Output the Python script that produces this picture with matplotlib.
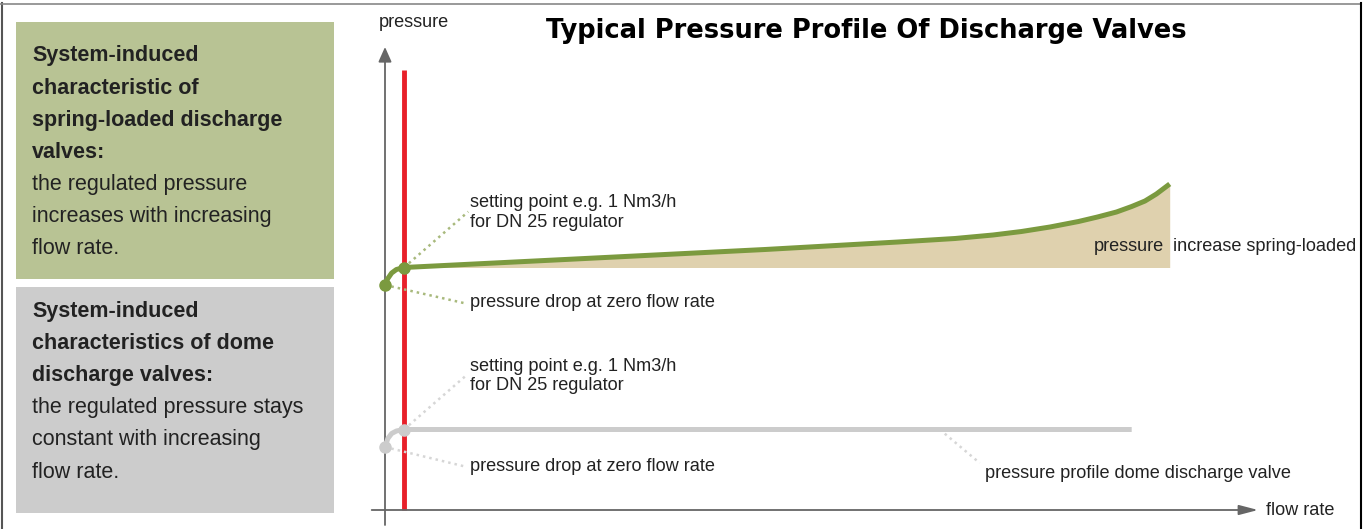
import matplotlib
matplotlib.use("Agg")
import matplotlib.pyplot as plt
from matplotlib.patches import Rectangle
from matplotlib.lines import Line2D

# spring-loaded valve: flow rate vs. pressure (arbitrary units, setting point at flow 1)
spring_flow = [0, 0.15, 0.35, 0.6, 1, 10, 20, 27, 30, 32, 33.5, 35, 36.5, 37.5, 38.5, 39.3,
               40, 40.6, 41.3]
spring_pressure = [22.5, 23.15, 23.7, 24.05, 24.25, 25.1, 26.05, 26.8, 27.15, 27.5, 27.85, 28.3,
                   28.85, 29.3, 29.8, 30.35, 30.9, 31.6, 32.6]

# dome valve: constant after setting point
dome_flow = [0, 0.15, 0.35, 0.6, 1, 39.3]
dome_pressure = [6.3, 7.15, 7.65, 7.9, 8.05, 8.05]

setting_flow = 1
setting_top = 44

green_title = ["System-induced", "characteristic of", "spring-loaded discharge", "valves:"]
green_body = ["the regulated pressure", "increases with increasing", "flow rate."]
gray_title = ["System-induced", "characteristics of dome", "discharge valves:"]
gray_body = ["the regulated pressure stays", "constant with increasing", "flow rate."]

W, H = 1367, 529
GREEN = "#7b9a3f"
GREEN_DOT = "#a8b97c"
GRAY = "#cccccc"
AXIS = "#666666"
TXT = "#222222"
FS = 13.1

plt.rcParams['font.family'] = ["Liberation Sans", 'DejaVu Sans']

fig = plt.figure(figsize=(W / 100, H / 100), dpi=100)
ax = fig.add_axes([0, 0, 1, 1])
ax.set_xlim(-385 / 19, (W - 385) / 19)
ax.set_ylim(-1.9, 51.0)
ax.axis("off")


def fx(px):
    return px / W


def fy(py):
    return 1 - py / H


# outer frame
fig.add_artist(Line2D([fx(1.5), fx(1.5)], [fy(3), 0], color="#555555", lw=1.5))
fig.add_artist(Line2D([0, fx(1361)], [fy(3.5), fy(3.5)], color="#888888", lw=1.2))
fig.add_artist(Line2D([fx(1361), fx(1361)], [fy(3), 0], color="black", lw=1.5))

# left info boxes
fig.add_artist(Rectangle((fx(16), fy(279)), fx(318), 257 / H, transform=fig.transFigure,
                         facecolor="#b8c394", edgecolor="none"))
fig.add_artist(Rectangle((fx(16), fy(513)), fx(318), 226 / H, transform=fig.transFigure,
                         facecolor=GRAY, edgecolor="none"))

for i, line in enumerate(green_title + green_body):
    fig.text(fx(32), fy(61.5 + 32.1 * i), line, fontsize=15.5, color=TXT, va="baseline",
             fontweight="bold" if i < len(green_title) else "normal")
for i, line in enumerate(gray_title + gray_body):
    fig.text(fx(32), fy(316.5 + 32.2 * i), line, fontsize=15.5, color=TXT, va="baseline",
             fontweight="bold" if i < len(gray_title) else "normal")

fig.text(fx(866), fy(38), "Typical Pressure Profile Of Discharge Valves", ha="center",
         va="baseline", fontsize=18.5, fontweight="bold", color="black", family="DejaVu Sans")

# axes with arrows
ax.annotate("", xy=(0, 46.3), xytext=(0, -1.5),
            arrowprops=dict(arrowstyle="-|>,head_length=9,head_width=4", mutation_scale=1,
                            color=AXIS, lw=1.3, shrinkA=0, shrinkB=0))
ax.annotate("", xy=(45.95, 0), xytext=(-0.7, 0),
            arrowprops=dict(arrowstyle="-|>,head_length=11.5,head_width=3", mutation_scale=1,
                            color=AXIS, lw=1.3, shrinkA=0, shrinkB=0))
ax.text(-0.32, 48.33, "pressure", fontsize=FS, color=TXT, va="baseline")
ax.text(46.35, -0.5, "flow rate", fontsize=FS, color=TXT, va="baseline")

# setting point line
ax.plot([setting_flow, setting_flow], [0, setting_top], color="#e8202a", lw=3.5, zorder=2,
        solid_capstyle="butt")

# pressure increase area
i0 = spring_flow.index(setting_flow)
base = spring_pressure[i0]
ax.fill_between(spring_flow[i0:], base, spring_pressure[i0:], color="#dfd1ae", lw=0, zorder=1)

ax.plot(spring_flow, spring_pressure, color=GREEN, lw=3.6, zorder=3, solid_capstyle="butt",
        solid_joinstyle="round")
ax.plot([spring_flow[0], setting_flow], [spring_pressure[0], base], "o", color=GREEN, ms=8, zorder=4)

ax.plot(dome_flow, dome_pressure, color=GRAY, lw=3.6, zorder=3, solid_capstyle="butt",
        solid_joinstyle="round")
dome_set = dome_pressure[dome_flow.index(setting_flow)]
ax.plot([dome_flow[0], setting_flow], [dome_pressure[0], dome_set], "o", color=GRAY, ms=8, zorder=4)

# annotations
dots = dict(lw=1.8, ls=(0, (1, 1.6)), zorder=2)
ax.plot([setting_flow, 4.38], [base, 29.83], color=GREEN_DOT, **dots)
ax.plot([0, 4.21], [spring_pressure[0], 20.67], color=GREEN_DOT, **dots)
ax.text(4.47, 30.27, "setting point e.g. 1 Nm3/h", fontsize=FS, color=TXT, va="baseline")
ax.text(4.47, 28.33, "for DN 25 regulator", fontsize=FS, color=TXT, va="baseline")
ax.text(4.47, 20.33, "pressure drop at zero flow rate", fontsize=FS, color=TXT, va="baseline")

ax.plot([setting_flow, 4.3], [dome_set, 13.5], color="#d6d6d6", **dots)
ax.plot([0, 4.21], [dome_pressure[0], 4.35], color="#d6d6d6", **dots)
ax.text(4.47, 13.94, "setting point e.g. 1 Nm3/h", fontsize=FS, color=TXT, va="baseline")
ax.text(4.47, 12.0, "for DN 25 regulator", fontsize=FS, color=TXT, va="baseline")
ax.text(4.47, 3.93, "pressure drop at zero flow rate", fontsize=FS, color=TXT, va="baseline")

ax.plot([29.2, 31.3], [dome_set, 4.7], color="#d6d6d6", **dots)
ax.text(31.58, 3.17, "pressure profile dome discharge valve", fontsize=FS, color=TXT, va="baseline")

ax.text(37.28, 25.93, "pressure", fontsize=FS, color=TXT, va="baseline")
ax.text(41.49, 25.93, "increase spring-loaded", fontsize=FS, color=TXT, va="baseline")

fig.savefig("out.png", dpi=100)
